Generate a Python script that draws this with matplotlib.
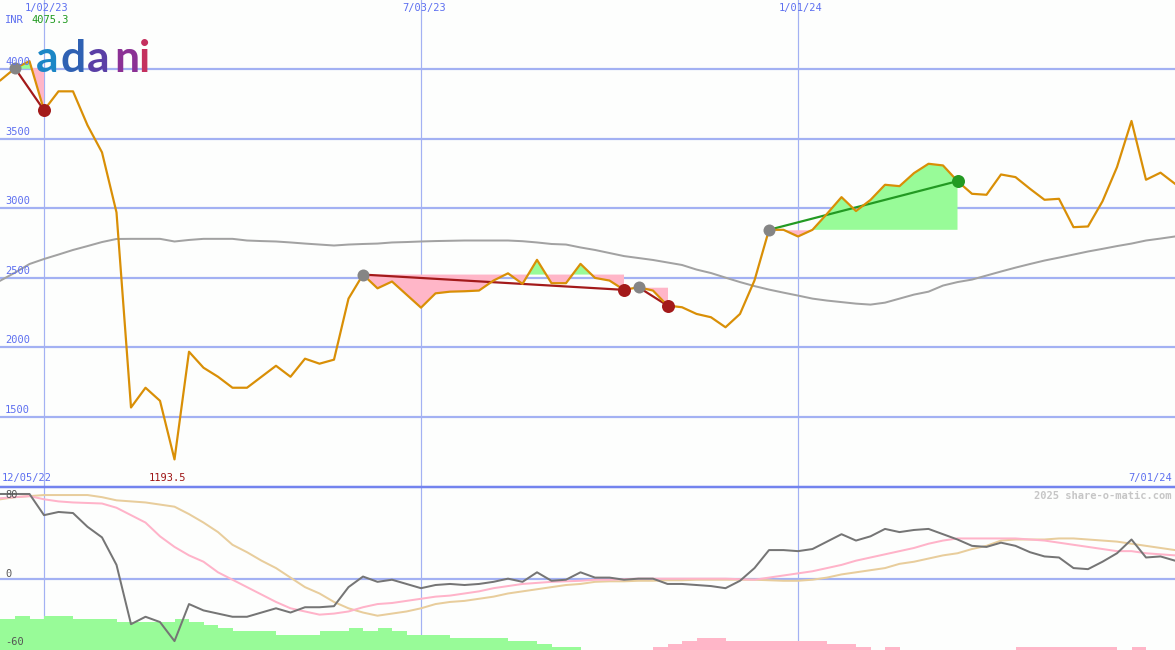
"""
Adani weekly price chart (share-o-matic style): price + long average with
trade markers on top, oscillator lines and volume-like bars below.
"""

import numpy as np
import matplotlib
matplotlib.use("Agg")
import matplotlib.pyplot as plt
from matplotlib.transforms import blended_transform_factory

# --- Dados (semanas contadas a partir de 2 Jan 2023) ---
FIRST_WEEK = -3
LAST_WEEK = 78
HIGH_LABEL = 4075.3

PRICE = [3921, 4007, 4058, 3705, 3841, 3841, 3597, 3402, 2970, 1567,
         1709, 1615, 1193.5, 1968, 1853, 1788, 1709, 1709, 1788, 1867,
         1788, 1918, 1882, 1911, 2350, 2523, 2424, 2473, 2379, 2285,
         2388, 2400, 2403, 2408, 2480, 2532, 2456, 2629, 2461, 2461,
         2600, 2499, 2480, 2413, 2432, 2408, 2300, 2288, 2240, 2216,
         2144, 2240, 2481, 2845, 2845, 2797, 2845, 2960, 3080, 2980,
         3060, 3169, 3159, 3253, 3320, 3308, 3195, 3104, 3097, 3243,
         3224, 3140, 3061, 3068, 2864, 2869, 3050, 3296, 3628, 3205,
         3256, 3176]

MA_LONG = [2480, 2537, 2599, 2635, 2667, 2700, 2728, 2757, 2779, 2780,
           2780, 2780, 2761, 2772, 2780, 2780, 2780, 2768, 2764, 2761,
           2754, 2746, 2739, 2732, 2739, 2743, 2746, 2754, 2757, 2761,
           2764, 2766, 2768, 2768, 2768, 2768, 2763, 2754, 2743, 2739,
           2718, 2700, 2678, 2656, 2642, 2628, 2610, 2592, 2559, 2534,
           2501, 2469, 2440, 2415, 2393, 2372, 2350, 2336, 2325, 2314,
           2307, 2321, 2350, 2379, 2400, 2444, 2469, 2487, 2516, 2545,
           2573, 2599, 2624, 2645, 2667, 2689, 2708, 2728, 2746, 2768,
           2782, 2797]

OSC = [80, 80, 80, 60, 63, 62, 49, 39, 13, -43,
       -36, -41, -59, -24, -30, -33, -36, -36, -32, -28,
       -32, -27, -27, -26, -8, 2, -3, -1, -5, -9,
       -6, -5, -6, -5, -3, 0, -3, 6, -2, -1,
       6, 1, 1, -1, 0, 0, -5, -5, -6, -7,
       -9, -2, 10, 27, 27, 26, 28, 35, 42, 36,
       40, 47, 44, 46, 47, 42, 37, 31, 30, 34,
       31, 25, 21, 20, 10, 9, 16, 24, 37, 20,
       21, 17]

OSC_FAST = [76, 77, 78, 75, 73, 72, 71.5, 71, 67, 60,
            53, 40, 30, 22, 16, 6, -1, -8, -15, -22,
            -28, -31, -34, -33, -31, -27, -24, -23, -21, -19,
            -17, -16, -14, -12, -9, -7, -5, -4, -3, -2.5,
            -2, -1, -1, -0.5, 0, 0, 0, 0, 0, 0,
            0, -0.5, -1, 1, 3, 5, 7, 10, 13, 17,
            20, 23, 26, 29, 33, 36, 38, 38, 38, 38,
            38, 37, 36, 34, 32, 30, 28, 26, 26, 24,
            23, 22]

OSC_SLOW = [75, 77, 78, 79, 79, 79, 79, 77, 74, 73,
            72, 70, 68, 61, 53, 44, 32, 25, 17, 10,
            1, -8, -14, -22, -28, -32, -35, -33, -31, -28,
            -24, -22, -21, -19, -17, -14, -12, -10, -8, -6,
            -5, -3, -2.5, -2.5, -2, -2, -1.5, -1.5, -1, -1,
            -1, -1, -1, -1.5, -2, -2, -1, 1, 4, 6,
            8, 10, 14, 16, 19, 22, 24, 28, 31, 36,
            37, 37, 37, 38, 38, 37, 36, 35, 33, 31,
            29, 27]

# barras: nível com sinal, cada uma vai da semana w até w+1 (w = -3 .. 77)
BARS = [10, 11, 10, 11, 11, 10, 10, 10, 9, 9,
        9, 9, 10, 9, 8, 7, 6, 6, 6, 5,
        5, 5, 6, 6, 7, 6, 7, 6, 5, 5,
        5, 4, 4, 4, 4, 3, 3, 2, 1, 1,
        0, 0, 0, 0, 0, -1, -2, -3, -4, -4,
        -3, -3, -3, -3, -3, -3, -3, -2, -2, -1,
        0, -1, 0, 0, 0, 0, 0, 0, 0, 0,
        -1, -1, -1, -1, -1, -1, -1, 0, -1, 0,
        0]

TRADE_ENTRY = [-2, 22, 41, 50]
TRADE_EXIT = [0, 40, 43, 63]

DATE_TICKS = [0, 26, 52]
DATE_LABELS = ["1/02/23", "7/03/23", "1/01/24"]
PRICE_TICKS = [4000, 3500, 3000, 2500, 2000, 1500]
OSC_TICKS = [80, 0, -60]

# --- Estilo ---
W, H = 1175, 650
BG = "#fdfefd"
GRID = "#a3b1f3"
LABEL_BLUE = "#5d6ff0"
PRICE_C = "#d98f06"
MA_C = "#a2a2a2"
PINK = "#ffb6c8"
GREEN = "#98fb98"
RED_DOT = "#a31a1a"
GREEN_DOT = "#239a23"
GRAY_DOT = "#858585"
MONO = "DejaVu Sans Mono"

PX = 72 / 100  # 1 pixel em pontos


def fx(px):
    return px / W


def fy(py):
    return 1 - py / H


weeks = np.arange(FIRST_WEEK, LAST_WEEK + 1)
price = np.array(PRICE, dtype=float)
assert len(price) == len(weeks) == len(MA_LONG) == len(OSC)
assert len(OSC_FAST) == len(weeks) == len(OSC_SLOW)
bar_weeks = np.arange(FIRST_WEEK, LAST_WEEK)
bars = np.array(BARS, dtype=float)
assert len(bars) == len(bar_weeks)

# semana -> pixel: x = 44 + 14.5 * w
x_left = -44 / 14.5
x_right = (W - 44) / 14.5

fig = plt.figure(figsize=(W / 100, H / 100), dpi=100, facecolor=BG)
split = 487
ax = fig.add_axes([0, fy(split), 1, split / H])
axb = fig.add_axes([0, 0, 1, 1 - split / H])
axo = axb.twinx()

for a in (ax, axb, axo):
    a.set_xlim(x_left, x_right)
    a.set_axis_off()

ax.set_ylim(995, 4498)
axb.set_ylim(0, (H - split) / 3.1)
axo.set_ylim(-67.4, 86.6)

# grade
for w in DATE_TICKS:
    ax.axvline(w, color=GRID, lw=1.2 * PX, zorder=0)
    axb.axvline(w, color=GRID, lw=1.2 * PX, zorder=0)
for v in PRICE_TICKS:
    ax.axhline(v, color=GRID, lw=2.2 * PX, zorder=0)
axo.axhline(0, color=GRID, lw=2.2 * PX, zorder=0)
fig.add_artist(plt.Line2D([0, 1], [fy(split), fy(split)], color="#7383ee",
                          lw=2.5 * PX, transform=fig.transFigure))

# trades: preenchimento entre preço de entrada e preço
for e, x in zip(TRADE_ENTRY, TRADE_EXIT):
    i0, i1 = e - FIRST_WEEK, x - FIRST_WEEK
    ww = weeks[i0:i1 + 1]
    pp = price[i0:i1 + 1]
    lvl = price[i0]
    ax.fill_between(ww, lvl, pp, where=pp >= lvl, interpolate=True,
                    color=GREEN, lw=0, zorder=1)
    ax.fill_between(ww, lvl, pp, where=pp <= lvl, interpolate=True,
                    color=PINK, lw=0, zorder=1)

ax.plot(weeks, MA_LONG, color=MA_C, lw=2 * PX, zorder=2)

for e, x in zip(TRADE_ENTRY, TRADE_EXIT):
    i0, i1 = e - FIRST_WEEK, x - FIRST_WEEK
    win = price[i1] > price[i0]
    c = GREEN_DOT if win else RED_DOT
    ax.plot([e, x], [price[i0], price[i1]], color=c, lw=2.2 * PX, zorder=3)

ax.plot(weeks, price, color=PRICE_C, lw=2.2 * PX, zorder=4)

for e, x in zip(TRADE_ENTRY, TRADE_EXIT):
    i0, i1 = e - FIRST_WEEK, x - FIRST_WEEK
    win = price[i1] > price[i0]
    ax.plot(e, price[i0], "o", ms=12 * PX, color=GRAY_DOT, mec="none", zorder=5)
    ax.plot(x, price[i1], "o", ms=13 * PX, color=GREEN_DOT if win else RED_DOT,
            mec="none", zorder=5)

# rótulos do eixo de preço
ytr = blended_transform_factory(ax.transAxes, ax.transData)
for v in PRICE_TICKS:
    ax.annotate(str(v), xy=(5 / W, v), xycoords=ytr, xytext=(0, 1.5),
                textcoords="offset points", ha="left", va="bottom",
                fontsize=7.5, family=MONO, color=LABEL_BLUE, zorder=6)

# painel inferior: barras
bar_cols = [GREEN if b > 0 else PINK for b in bars]
axb.bar(bar_weeks, np.abs(bars), width=1.0, align="edge", color=bar_cols,
        lw=0, zorder=1)

axo.plot(weeks, OSC_SLOW, color="#e8cd9c", lw=2 * PX, zorder=2)
axo.plot(weeks, OSC_FAST, color="#ffb3c9", lw=2 * PX, zorder=3)
axo.plot(weeks, OSC, color="#757575", lw=2 * PX, zorder=4)

otr = blended_transform_factory(axo.transAxes, axo.transData)
osc_off = {80: -1, 0: 5, -60: 0}
for v in OSC_TICKS:
    axo.annotate(str(v), xy=(5 / W, v), xycoords=otr, xytext=(0, osc_off[v] * PX),
                 textcoords="offset points", ha="left", va="center",
                 fontsize=7.5, family=MONO, color="#555555", zorder=6)

# datas no topo
for w, lab in zip(DATE_TICKS, DATE_LABELS):
    fig.text(fx(44 + 14.5 * w + 3), fy(8), lab, ha="center", va="center",
             fontsize=7.5, family=MONO, color=LABEL_BLUE)
fig.text(fx(5), fy(20), "INR", ha="left", va="center", fontsize=7.5,
         family=MONO, color=LABEL_BLUE)
fig.text(fx(31), fy(20), f"{HIGH_LABEL:.1f}", ha="left", va="center",
         fontsize=7.5, family=MONO, color="#1f9a1f")

fig.text(fx(2), fy(478), "12/05/22", ha="left", va="center", fontsize=7.5,
         family=MONO, color=LABEL_BLUE)
fig.text(fx(W - 3), fy(478), "7/01/24", ha="right", va="center", fontsize=7.5,
         family=MONO, color=LABEL_BLUE)
fig.text(fx(167), fy(478), f"{min(PRICE):.1f}", ha="center", va="center",
         fontsize=7.5, family=MONO, color="#9e1414")
fig.text(fx(W - 3), fy(496), "2025 share-o-matic.com", ha="right", va="center",
         fontsize=7.5, family=MONO, weight="bold", color="#c6c6c6")

# logo
logo = [("a", 36, "#1b86c6"), ("d", 61, "#2f61b3"), ("a", 87, "#5a3fa6"),
        ("n", 114, "#8b3195"), ("i", 139, "#c4305e")]
for ch, px, col in logo:
    fig.text(fx(px), fy(72), ch, ha="left", va="baseline", fontsize=32,
             family="Lato", weight="bold", color=col, zorder=10)

fig.savefig("out.png", dpi=100, facecolor=BG)
